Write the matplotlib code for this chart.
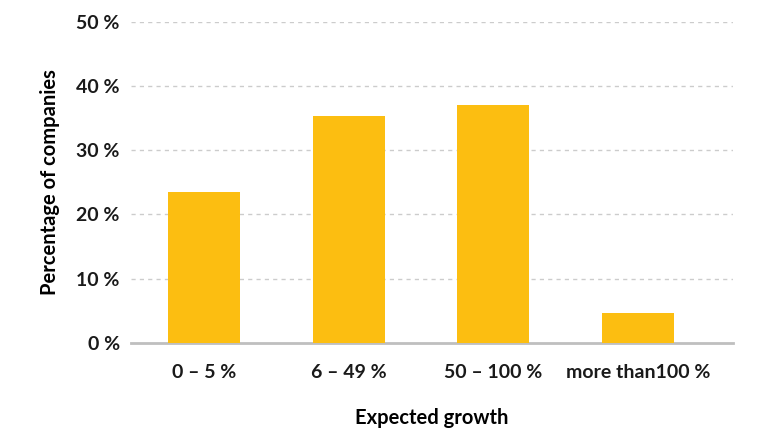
import matplotlib.pyplot as plt

categories = ["0 – 5 %", "6 – 49 %", "50 – 100 %", "more than100 %"]
shares = [23.5, 35.3, 37.0, 4.6]
yticks = [0, 10, 20, 30, 40, 50]

plt.rcParams['font.family'] = ['Lato', 'DejaVu Sans']
plt.rcParams['font.weight'] = 'bold'

fig = plt.figure(figsize=(7.66, 4.30), dpi=100)
ax = fig.add_axes([0.171, 0.203, 0.786, 0.746])

x = list(range(len(categories)))
ax.bar(x, shares, width=0.5, color='#FCBE11', zorder=3)

ax.set_xlim(-0.508, 3.66)
ax.set_ylim(0, 50)
ax.set_yticks(yticks)
ax.set_yticklabels([f"{t} %" for t in yticks], fontsize=14, fontweight='bold', color='#1a1a1a')
ax.set_xticks(x)
ax.set_xticklabels(categories, fontsize=14, fontweight='bold', color='#1a1a1a')
ax.tick_params(axis='both', length=0)
ax.tick_params(axis='y', pad=8)
ax.tick_params(axis='x', pad=15)

for t in yticks[1:]:
    ax.axhline(t, color='#cccccc', lw=1, ls=(0, (3, 3)), zorder=1)

for s in ['top', 'right', 'left']:
    ax.spines[s].set_visible(False)
ax.spines['bottom'].set_color('#bfbfbf')
ax.spines['bottom'].set_linewidth(2)

ax.set_xlabel("Expected growth", fontsize=14.5, fontweight='bold', labelpad=20)
ax.set_ylabel("Percentage of companies", fontsize=14.5, fontweight='bold', labelpad=12)

fig.savefig("out.png", dpi=100)
